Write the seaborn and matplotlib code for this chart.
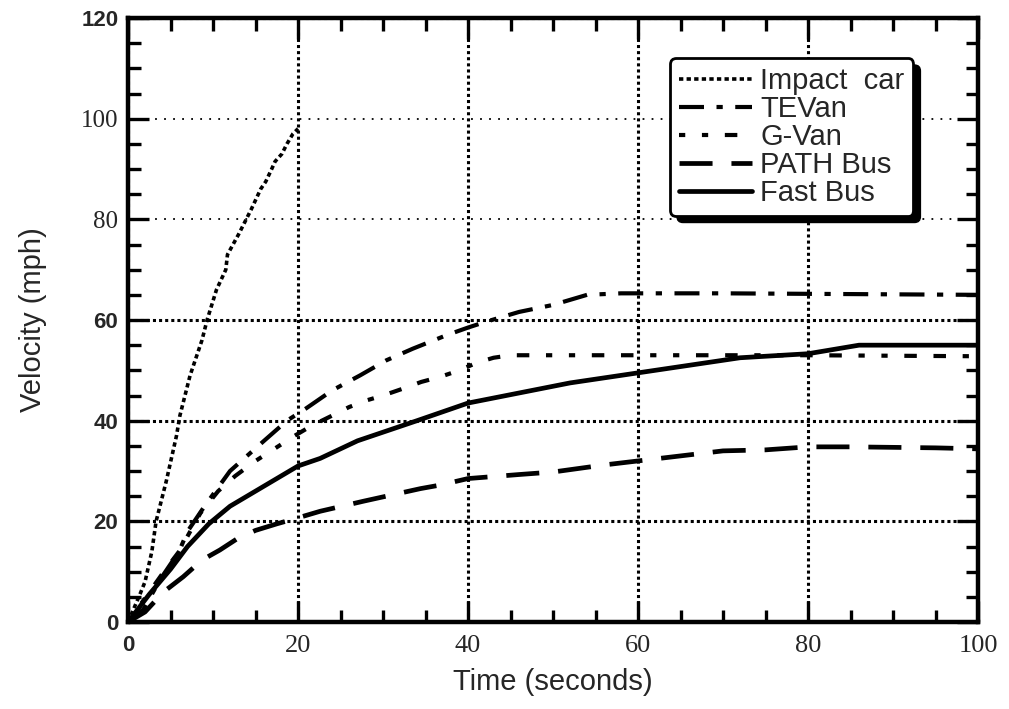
import numpy as np
import pandas as pd
import matplotlib
matplotlib.use('Agg')
import matplotlib.pyplot as plt
import seaborn as sns
from matplotlib.patches import FancyBboxPatch
from matplotlib.ticker import MultipleLocator

# values (time in s, velocity in mph)
impact_t = [0, 1.4, 2.0, 2.8, 3.3, 4.5, 5.7, 6.1, 7.3, 8.7, 9.3, 10.4, 11.5, 11.7, 13.0, 14.5, 15.6, 16.2, 16.9, 17.3, 18.1, 18.7, 19.4, 20.0]
impact_v = [0, 5.5, 8, 14, 20, 28, 37, 41, 49, 56, 60, 66, 70, 73, 77, 82, 86, 87.5, 90, 91.5, 93, 95, 97, 98]

tevan_t = [0, 1.8, 3.8, 6.0, 7.0, 9.0, 12.0, 16.0, 18.7, 21.0, 24.0, 27.3, 30.4, 33.5, 37.5, 40.0, 42.0, 46.0, 50.0, 54.0, 58.0, 70.0, 80.0, 100.0]
tevan_v = [0, 2.5, 8.5, 14, 18, 23, 30, 36, 40, 42.5, 46, 49, 52, 54.3, 57, 58.5, 59.6, 61.6, 63, 65, 65.3, 65.3, 65.2, 65]

gvan_t = [0, 4.0, 6.0, 8.5, 10.6, 12.6, 15.0, 17.3, 19.6, 21.6, 24.0, 26.0, 28.0, 30.0, 32.4, 34.5, 36.7, 39.0, 41.0, 43.0, 45.0, 60.0, 80.0, 100.0]
gvan_v = [0, 9.5, 14, 21.6, 26, 29, 32, 34.5, 37, 39, 41, 42.7, 44, 45, 46.4, 47.7, 48.7, 50, 51.5, 52.5, 53, 53, 53, 52.8]

path_t = [0, 2.0, 4.2, 6.5, 8.7, 10.8, 12.8, 15.0, 17.5, 19.8, 22.6, 27.7, 34.4, 36.7, 40.0, 46.0, 50.0, 56.0, 60.0, 65.0, 70.0, 75.0, 80.0, 85.0, 90.0, 95.0, 100.0]
path_v = [0, 2, 6, 9, 12.3, 14.3, 16.5, 18.2, 19.5, 20.6, 22, 24, 26.5, 27.2, 28.5, 29.3, 29.8, 31.2, 32, 33, 34, 34.2, 34.8, 34.8, 34.7, 34.6, 34.4]

fast_t = [0, 2.5, 5.0, 7.0, 9.5, 12.0, 14.0, 17.0, 20.0, 22.6, 27.0, 34.0, 40.0, 46.0, 52.0, 60.0, 66.0, 72.0, 80.0, 86.0, 100.0]
fast_v = [0, 5.5, 10.5, 15, 19.5, 23, 25, 28, 31, 32.5, 36, 40, 43.5, 45.5, 47.5, 49.5, 51, 52.5, 53.3, 55, 55]

names = ['Impact  car', 'TEVan', 'G-Van', 'PATH Bus', 'Fast Bus']
x_ticks = [0, 20, 40, 60, 80, 100]
y_ticks = [0, 20, 40, 60, 80, 100, 120]

sns.set_style('ticks')
plt.rcParams['font.family'] = ['Liberation Sans', 'DejaVu Sans']

fig = plt.figure(figsize=(10.09, 7.09), dpi=100)
ax = fig.add_axes([0.1269, 0.1227, 0.8424, 0.8519])

series = [(impact_t, impact_v, (0, (1.2, 0.9)), 2.6),
          (tevan_t, tevan_v, (0, (6, 3, 1.5, 3)), 3.0),
          (gvan_t, gvan_v, (0, (1.5, 4, 1.5, 4, 3, 4, 3, 4)), 3.0),
          (path_t, path_v, (0, (7, 4)), 3.4),
          (fast_t, fast_v, '-', 3.4)]

for (t, v, ls, lw), name in zip(series, names):
    sns.lineplot(x=t, y=v, ax=ax, color='black', linestyle=ls, linewidth=lw,
                 label=name, zorder=3, legend=False)

ax.set_xlim(0, 100)
ax.set_ylim(0, 120)
ax.set_xticks(x_ticks)
ax.set_yticks(y_ticks)
ax.xaxis.set_minor_locator(MultipleLocator(5))
ax.yaxis.set_minor_locator(MultipleLocator(5))
ax.tick_params(which='both', direction='in', top=True, right=True, width=2.4, color='black')
ax.tick_params(which='major', length=15)
ax.tick_params(which='minor', length=9)
ax.tick_params(axis='x', which='major', pad=9)
ax.tick_params(axis='y', which='major', pad=7)

ax.grid(True, which='major', color='black', linestyle=(0, (1, 1)), linewidth=2.2)
ygl = ax.yaxis.get_gridlines()
for i in (4, 5):
    ygl[i].set_linestyle((0, (1, 4)))
    ygl[i].set_linewidth(1.3)

for s in ax.spines.values():
    s.set_linewidth(3.2)
    s.set_color('black')

ax.set_xticklabels([str(v) for v in x_ticks])
ax.set_yticklabels([str(v) for v in y_ticks])
for lab in ax.get_xticklabels():
    if lab.get_text() == '0':
        lab.set_fontfamily(['Liberation Sans', 'DejaVu Sans'])
        lab.set_fontweight('bold')
        lab.set_fontsize(16)
    else:
        lab.set_fontfamily(['Liberation Serif', 'DejaVu Serif'])
        lab.set_fontsize(19)
for lab in ax.get_yticklabels():
    if lab.get_text() in ('80', '100'):
        lab.set_fontfamily(['Liberation Serif', 'DejaVu Serif'])
        lab.set_fontsize(18)
    else:
        lab.set_fontfamily(['Liberation Sans', 'DejaVu Sans'])
        lab.set_fontweight('bold')
        lab.set_fontsize(16)

ax.set_xlabel('Time (seconds)', fontsize=21, labelpad=8)
ax.set_ylabel('Velocity (mph)', fontsize=21, labelpad=24)

leg = ax.legend(loc='upper left', bbox_to_anchor=(670 / 1009, 1 - 58 / 709),
                bbox_transform=fig.transFigure, borderaxespad=0,
                fontsize=21, labelspacing=0.0, handlelength=2.5, handletextpad=0.3,
                borderpad=0.3, frameon=True, framealpha=1, fancybox=True,
                edgecolor='black')
leg.get_frame().set_linewidth(2.0)
leg.set_zorder(6)

fig.canvas.draw()
bb = leg.get_window_extent()
shadow = FancyBboxPatch((bb.x0 + 7, bb.y0 - 7), bb.width, bb.height,
                        boxstyle='round,pad=0,rounding_size=6',
                        transform=None, facecolor='black', edgecolor='black', zorder=5.9)
ax.add_artist(shadow)
shadow.set_clip_on(False)

fig.savefig('out.png', dpi=100)
